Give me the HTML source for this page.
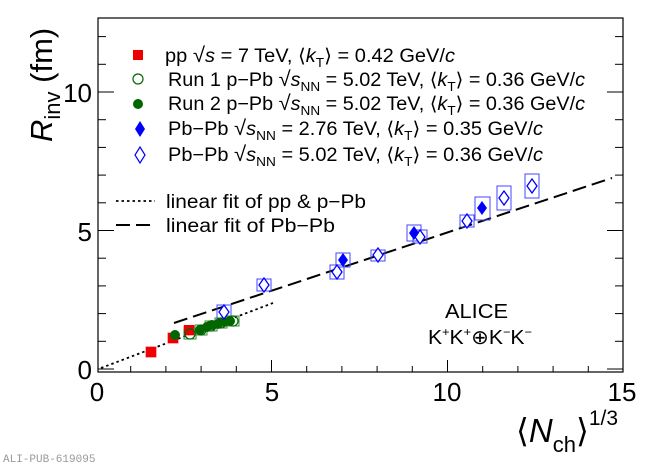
<!DOCTYPE html>
<html><head><meta charset="utf-8"><style>
html,body{margin:0;padding:0;background:#fff;}
svg{display:block;font-family:"Liberation Sans",sans-serif;}
</style></head><body>
<svg width="650" height="467" viewBox="0 0 650 467" xmlns="http://www.w3.org/2000/svg">
<rect width="650" height="467" fill="#fff"/>
<rect x="98" y="18" width="525" height="354" fill="none" stroke="#000" stroke-width="1.2"/>
<g stroke="#000" stroke-width="1">
<line x1="271.5" y1="372" x2="271.5" y2="360"/><line x1="447.5" y1="372" x2="447.5" y2="360"/>
<line x1="130.7" y1="372" x2="130.7" y2="366"/><line x1="165.9" y1="372" x2="165.9" y2="366"/><line x1="201.1" y1="372" x2="201.1" y2="366"/><line x1="236.3" y1="372" x2="236.3" y2="366"/>
<line x1="306.7" y1="372" x2="306.7" y2="366"/><line x1="341.9" y1="372" x2="341.9" y2="366"/><line x1="377.1" y1="372" x2="377.1" y2="366"/><line x1="412.3" y1="372" x2="412.3" y2="366"/>
<line x1="482.7" y1="372" x2="482.7" y2="366"/><line x1="517.9" y1="372" x2="517.9" y2="366"/><line x1="553.1" y1="372" x2="553.1" y2="366"/><line x1="588.3" y1="372" x2="588.3" y2="366"/>
<line x1="98" y1="369" x2="114" y2="369"/><line x1="98" y1="230.5" x2="114" y2="230.5"/><line x1="98" y1="92" x2="114" y2="92"/>
<line x1="623" y1="369" x2="607" y2="369"/><line x1="623" y1="230.5" x2="607" y2="230.5"/><line x1="623" y1="92" x2="607" y2="92"/>
<line x1="98" y1="341.3" x2="106" y2="341.3"/><line x1="98" y1="313.6" x2="106" y2="313.6"/><line x1="98" y1="285.9" x2="106" y2="285.9"/><line x1="98" y1="258.2" x2="106" y2="258.2"/>
<line x1="98" y1="202.8" x2="106" y2="202.8"/><line x1="98" y1="175.1" x2="106" y2="175.1"/><line x1="98" y1="147.4" x2="106" y2="147.4"/><line x1="98" y1="119.7" x2="106" y2="119.7"/>
<line x1="98" y1="64.3" x2="106" y2="64.3"/><line x1="98" y1="36.6" x2="106" y2="36.6"/>
<line x1="623" y1="341.3" x2="615" y2="341.3"/><line x1="623" y1="313.6" x2="615" y2="313.6"/><line x1="623" y1="285.9" x2="615" y2="285.9"/><line x1="623" y1="258.2" x2="615" y2="258.2"/>
<line x1="623" y1="202.8" x2="615" y2="202.8"/><line x1="623" y1="175.1" x2="615" y2="175.1"/><line x1="623" y1="147.4" x2="615" y2="147.4"/><line x1="623" y1="119.7" x2="615" y2="119.7"/>
<line x1="623" y1="64.3" x2="615" y2="64.3"/><line x1="623" y1="36.6" x2="615" y2="36.6"/>
</g>
<g font-size="26" fill="#000">
<text x="97" y="401" text-anchor="middle">0</text>
<text x="272" y="401" text-anchor="middle">5</text>
<text x="447" y="401" text-anchor="middle">10</text>
<text x="622" y="401" text-anchor="middle">15</text>
<text x="92" y="379" text-anchor="end">0</text>
<text x="92" y="241" text-anchor="end">5</text>
<text x="92" y="102" text-anchor="end">10</text>
</g>
<text transform="translate(52,142) rotate(-90)" font-size="31" fill="#000"><tspan font-style="italic">R</tspan><tspan font-size="22" dy="8">inv</tspan><tspan dy="-8"> (fm)</tspan></text>
<text x="516" y="442" font-size="33" fill="#000">⟨<tspan font-style="italic">N</tspan><tspan font-size="22" dy="10">ch</tspan><tspan dy="-10">⟩</tspan><tspan font-size="21" dy="-17">1/3</tspan></text>
<line x1="101" y1="368" x2="273" y2="303" stroke="#000" stroke-width="1.8" stroke-dasharray="2.5,3"/>
<line x1="174" y1="323" x2="612" y2="178" stroke="#000" stroke-width="2" stroke-dasharray="14,6"/>
<g fill="none" stroke-width="1">
<g stroke="#f55"><rect x="146" y="347" width="10" height="10"/><rect x="168" y="333" width="10" height="10"/><rect x="184" y="326" width="10" height="9"/></g>
<g stroke="#3a8a3a"><rect x="184" y="329" width="12" height="10"/><rect x="195" y="325" width="12" height="10"/><rect x="205" y="321" width="12" height="10"/><rect x="215" y="318" width="12" height="10"/><rect x="227" y="316" width="12" height="10"/></g>
<g stroke="#44f"><rect x="217" y="305" width="14" height="14"/><rect x="257" y="279" width="14" height="12"/><rect x="330" y="265" width="14" height="14"/><rect x="336" y="253" width="14" height="14"/><rect x="371" y="250" width="14" height="11"/><rect x="407" y="225" width="14" height="16"/><rect x="413" y="230" width="14" height="13"/><rect x="460" y="215" width="14" height="12"/><rect x="475" y="197" width="15" height="23"/><rect x="497" y="186" width="14" height="24"/><rect x="525" y="174" width="14" height="24"/></g>
</g>
<g fill="#e00"><rect x="146" y="347" width="10" height="10"/><rect x="168" y="333" width="10" height="10"/><rect x="184" y="325" width="10" height="10"/></g>
<g fill="#060"><circle cx="175" cy="335" r="5"/><circle cx="200" cy="330" r="5"/><circle cx="207" cy="327" r="5"/><circle cx="212" cy="325" r="5"/><circle cx="218" cy="324" r="5"/><circle cx="224" cy="322" r="5"/><circle cx="230" cy="321" r="5"/></g>
<g fill="none" stroke="#060" stroke-width="1.2"><circle cx="190" cy="334" r="5"/><circle cx="201" cy="330" r="5"/><circle cx="211" cy="326" r="5"/><circle cx="221" cy="323" r="5"/><circle cx="233" cy="321" r="5"/></g>
<g fill="#fff" stroke="#00f" stroke-width="1.3">
<path d="M224 305 l5 7 -5 7 -5 -7z"/><path d="M264 278 l5 7 -5 7 -5 -7z"/><path d="M337 265 l5 7 -5 7 -5 -7z"/><path d="M378 248 l5 7 -5 7 -5 -7z"/><path d="M420 230 l5 7 -5 7 -5 -7z"/><path d="M467 214 l5 7 -5 7 -5 -7z"/><path d="M504 191 l5 7 -5 7 -5 -7z"/><path d="M532 179 l5 7 -5 7 -5 -7z"/>
</g>
<g fill="#00f"><path d="M343 253 l5 7 -5 7 -5 -7z"/><path d="M414 226 l5 7 -5 7 -5 -7z"/><path d="M482 201 l5 7 -5 7 -5 -7z"/></g>
<g font-size="19" fill="#000">
<rect x="133" y="50" width="10" height="10" fill="#e00"/>
<text x="165" y="62" textLength="290" lengthAdjust="spacingAndGlyphs">pp <tspan font-size="21">√</tspan><tspan font-style="italic">s</tspan> = 7 TeV, ⟨<tspan font-style="italic">k</tspan><tspan font-size="13" dy="5">T</tspan><tspan dy="-5">⟩ = 0.42 GeV/</tspan><tspan font-style="italic">c</tspan></text>
<circle cx="138" cy="79" r="5" fill="none" stroke="#060" stroke-width="1.2"/>
<text x="168" y="86" textLength="417" lengthAdjust="spacingAndGlyphs">Run 1 p−Pb <tspan font-size="21">√</tspan><tspan font-style="italic">s</tspan><tspan font-size="13" dy="5">NN</tspan><tspan dy="-5"> = 5.02 TeV, ⟨</tspan><tspan font-style="italic">k</tspan><tspan font-size="13" dy="5">T</tspan><tspan dy="-5">⟩ = 0.36 GeV/</tspan><tspan font-style="italic">c</tspan></text>
<circle cx="138" cy="104" r="5" fill="#060"/>
<text x="168" y="110" textLength="417" lengthAdjust="spacingAndGlyphs">Run 2 p−Pb <tspan font-size="21">√</tspan><tspan font-style="italic">s</tspan><tspan font-size="13" dy="5">NN</tspan><tspan dy="-5"> = 5.02 TeV, ⟨</tspan><tspan font-style="italic">k</tspan><tspan font-size="13" dy="5">T</tspan><tspan dy="-5">⟩ = 0.36 GeV/</tspan><tspan font-style="italic">c</tspan></text>
<path d="M140 121 l5 8 -5 8 -5 -8z" fill="#00f"/>
<text x="168" y="135" textLength="375" lengthAdjust="spacingAndGlyphs">Pb−Pb <tspan font-size="21">√</tspan><tspan font-style="italic">s</tspan><tspan font-size="13" dy="5">NN</tspan><tspan dy="-5"> = 2.76 TeV, ⟨</tspan><tspan font-style="italic">k</tspan><tspan font-size="13" dy="5">T</tspan><tspan dy="-5">⟩ = 0.35 GeV/</tspan><tspan font-style="italic">c</tspan></text>
<path d="M140 147 l5 8 -5 8 -5 -8z" fill="#fff" stroke="#00f" stroke-width="1.2"/>
<text x="168" y="161" textLength="375" lengthAdjust="spacingAndGlyphs">Pb−Pb <tspan font-size="21">√</tspan><tspan font-style="italic">s</tspan><tspan font-size="13" dy="5">NN</tspan><tspan dy="-5"> = 5.02 TeV, ⟨</tspan><tspan font-style="italic">k</tspan><tspan font-size="13" dy="5">T</tspan><tspan dy="-5">⟩ = 0.36 GeV/</tspan><tspan font-style="italic">c</tspan></text>
<line x1="116" y1="201" x2="155" y2="201" stroke="#000" stroke-width="1.8" stroke-dasharray="2.5,3"/>
<text x="166" y="208" textLength="200" lengthAdjust="spacingAndGlyphs">linear fit of pp &amp; p−Pb</text>
<line x1="116" y1="225" x2="155" y2="225" stroke="#000" stroke-width="2" stroke-dasharray="14,6"/>
<text x="166" y="232" textLength="169" lengthAdjust="spacingAndGlyphs">linear fit of Pb−Pb</text>
<text x="445" y="318" font-size="20" textLength="63" lengthAdjust="spacingAndGlyphs">ALICE</text>
<text x="428" y="344" font-size="20" textLength="104" lengthAdjust="spacingAndGlyphs">K<tspan font-size="12" dy="-8">+</tspan><tspan dy="8">K</tspan><tspan font-size="12" dy="-8">+</tspan><tspan dy="8">⊕K</tspan><tspan font-size="12" dy="-8">−</tspan><tspan dy="8">K</tspan><tspan font-size="12" dy="-8">−</tspan></text>
</g>
<text x="3" y="462" font-family="Liberation Mono,monospace" font-size="11" fill="#999">ALI-PUB-619095</text>
</svg>
</body></html>
